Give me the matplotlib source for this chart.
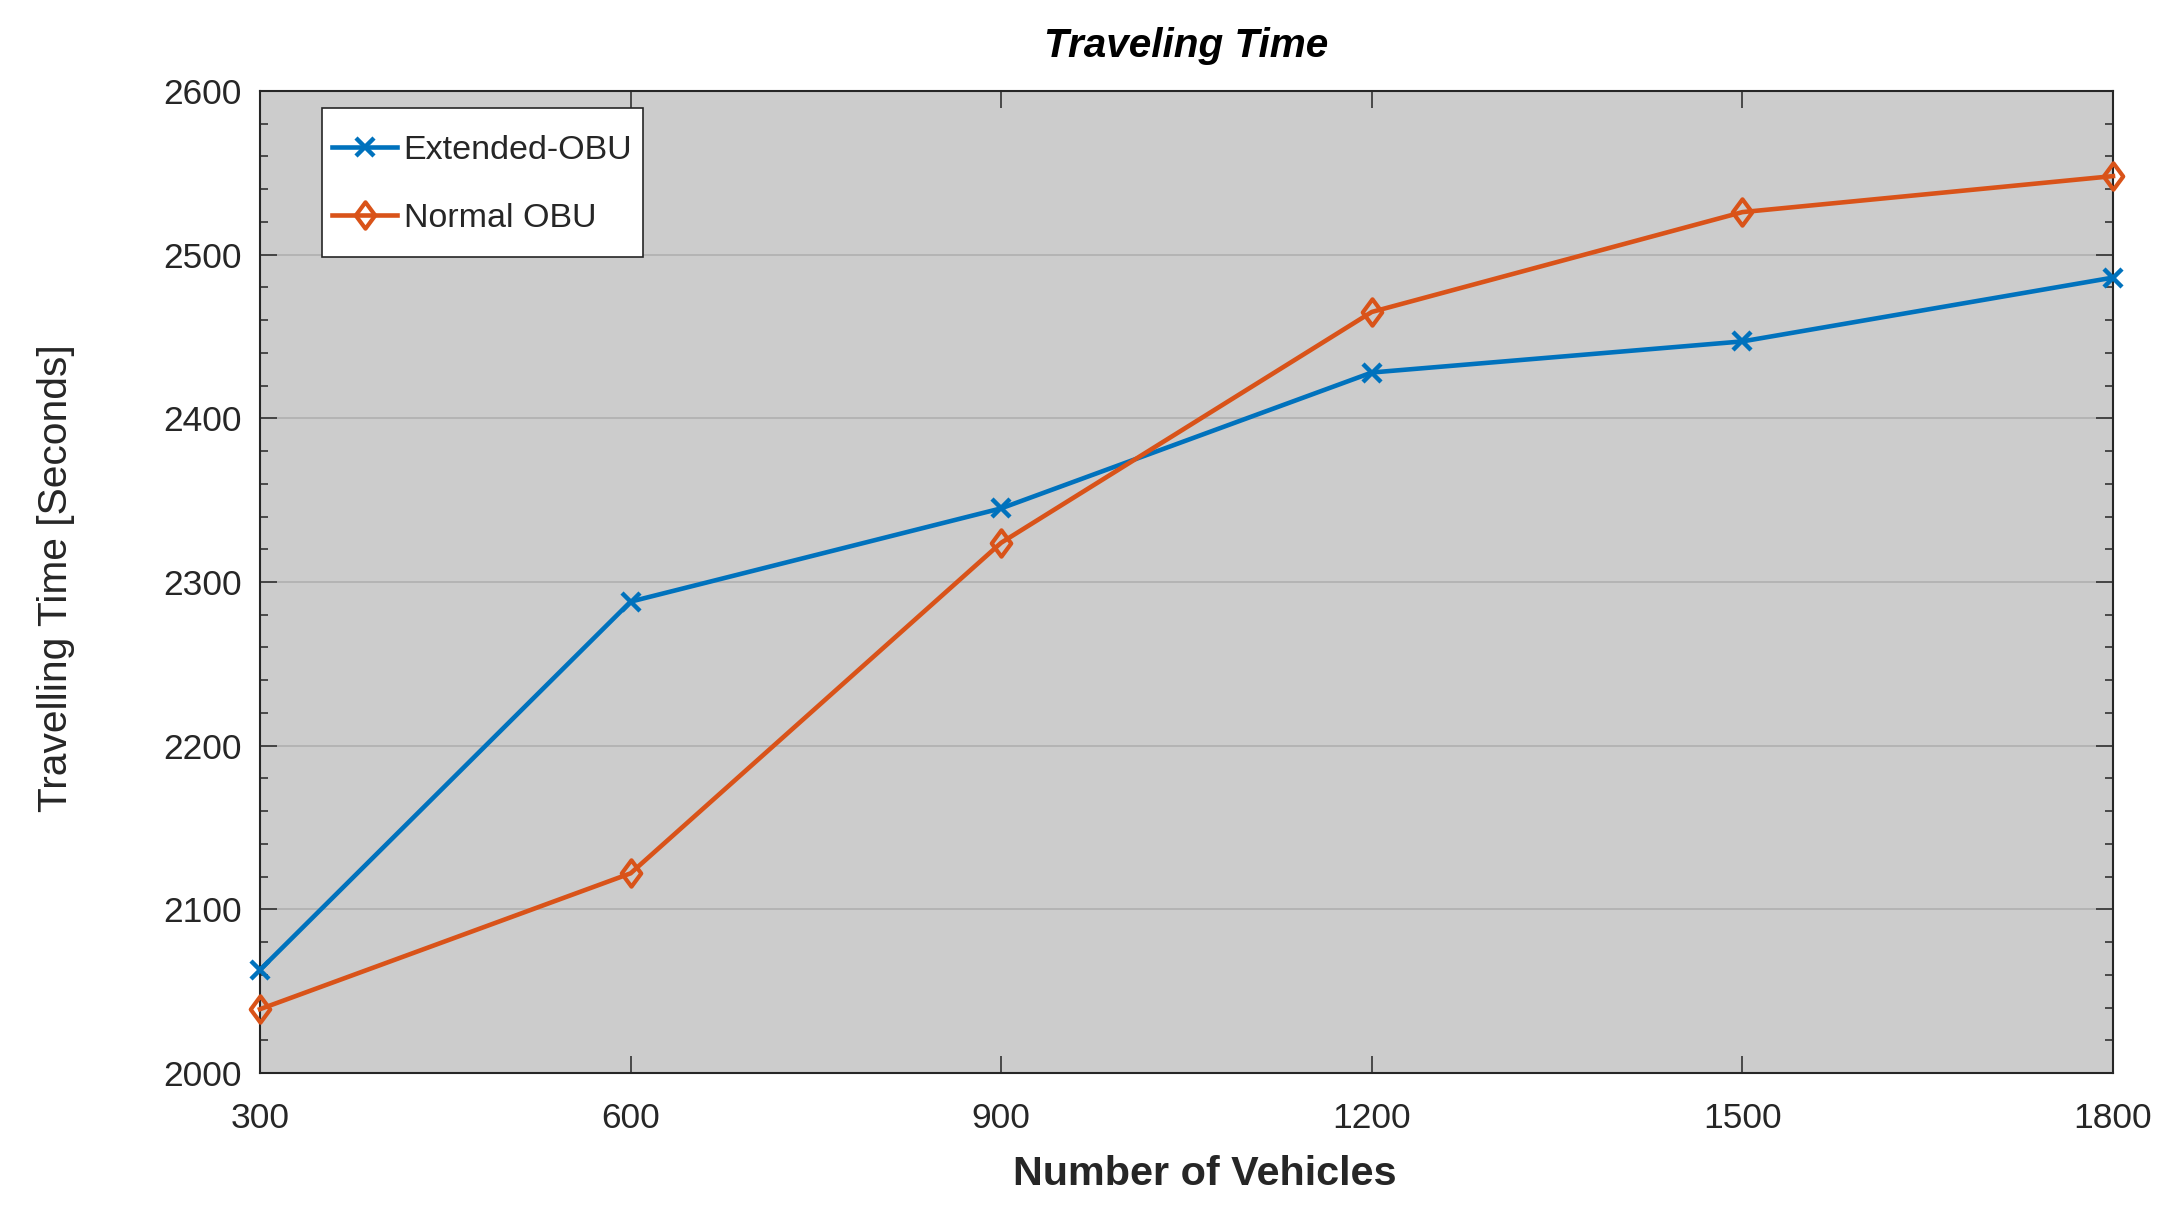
import matplotlib
matplotlib.use("Agg")
import matplotlib.pyplot as plt
from matplotlib.ticker import MultipleLocator
from matplotlib.path import Path
from matplotlib.legend_handler import HandlerLine2D

vehicles = [300, 600, 900, 1200, 1500, 1800]
extended_obu = [2063, 2288, 2345, 2428, 2447, 2486]
normal_obu = [2039, 2122, 2324, 2465, 2526, 2548]
series_labels = ["Extended-OBU", "Normal OBU"]
x_ticks = [300, 600, 900, 1200, 1500, 1800]
y_ticks = [2000, 2100, 2200, 2300, 2400, 2500, 2600]

plt.rcParams['font.family'] = ['Liberation Sans', 'DejaVu Sans']


class LoweredLine(HandlerLine2D):
    def create_artists(self, legend, orig_handle, xdescent, ydescent, width,
                       height, fontsize, trans):
        return super().create_artists(legend, orig_handle, xdescent,
                                      ydescent + 0.5 * fontsize, width, height,
                                      fontsize, trans)


W, H = 2184, 1212
fig = plt.figure(figsize=(W / 100, H / 100), dpi=100)
L, R, T, B = 260, 2113, 91, 1073
ax = fig.add_axes([L / W, 1 - B / H, (R - L) / W, (B - T) / H])
ax.set_facecolor('#cccccc')

blue = '#0072BD'
orange = '#D95319'
diamond = Path([(0, 1), (0.74, 0), (0, -1), (-0.74, 0), (0, 1)],
               [Path.MOVETO, Path.LINETO, Path.LINETO, Path.LINETO, Path.CLOSEPOLY])

l1, = ax.plot(vehicles, extended_obu, color=blue, lw=3.3, marker='x', ms=13, mew=3.2,
              label=series_labels[0], zorder=3, clip_on=False)
l2, = ax.plot(vehicles, normal_obu, color=orange, lw=3.3, marker=diamond, ms=19,
              mew=3, mfc='none', label=series_labels[1], zorder=3, clip_on=False)

ax.set_xlim(300, 1800)
ax.set_ylim(2000, 2600)
ax.set_xticks(x_ticks)
ax.set_yticks(y_ticks)
ax.yaxis.set_minor_locator(MultipleLocator(20))

tc = '#262626'
ax.tick_params(which='both', direction='in', top=True, right=True, colors=tc, width=1.1)
ax.tick_params(which='major', length=12, labelsize=25.5)
ax.tick_params(which='minor', length=6)
ax.tick_params(axis='x', which='major', pad=21)
ax.tick_params(axis='y', which='major', pad=13)
for s in ax.spines.values():
    s.set_color(tc)
    s.set_linewidth(1.5)

ax.yaxis.grid(True, which='major', color='#b0b0b0', lw=1.2)
ax.set_axisbelow(True)

ax.set_xlabel("Number of Vehicles", fontsize=29.8, fontweight='bold', color=tc)
ax.xaxis.set_label_coords((1205 - L) / (R - L), -(1155 - B) / (B - T))
ax.set_ylabel("Travelling Time [Seconds]", fontsize=29.3, color=tc)
ax.yaxis.set_label_coords((75 - L) / (R - L), (B - 578) / (B - T))

fig.text(1186 / W, 1 - 57 / H, "Traveling Time", fontsize=29.2, fontweight='bold',
         fontstyle='italic', ha='center', va='baseline', color='black')

leg = ax.legend(handles=[l1, l2], loc='upper left',
                bbox_to_anchor=(322 / W, 1 - 108 / H),
                bbox_transform=fig.transFigure, borderaxespad=0, fontsize=24.5,
                fancybox=False, framealpha=1, edgecolor=tc, handlelength=1.9,
                handletextpad=0.2, labelspacing=0.18, borderpad=0.3,
                handleheight=2.4, handler_map={l1: LoweredLine(), l2: LoweredLine()})
leg.get_frame().set_linewidth(1.2)
for t in leg.get_texts():
    t.set_color(tc)

fig.savefig("out.png", dpi=100)
